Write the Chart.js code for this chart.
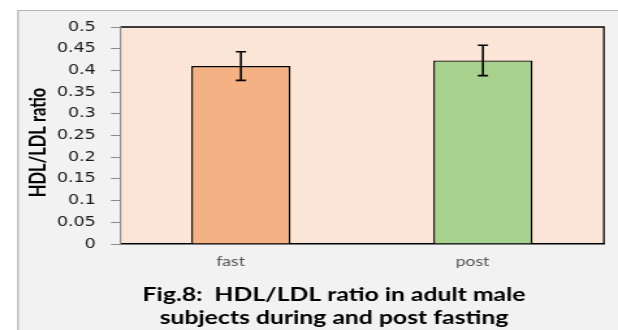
<!DOCTYPE html>
<html>
<head>
<meta charset="utf-8">
<script src="https://cdn.jsdelivr.net/npm/chart.js@4.4.1/dist/chart.umd.min.js"></script>
<style>
  html, body { margin: 0; padding: 0; background: #ffffff; }
  #wrap { width: 475px; height: 330px; transform: scale(1.301, 1); transform-origin: 0 0; }
</style>
</head>
<body>
<div id="wrap"><canvas id="ratioChart" width="475" height="330"></canvas></div>
<script>
// values
const categories = ['fast', 'post'];
const meanRatio = [0.41, 0.423];
const errRatio = [0.033, 0.035];
const yTicks = [0, 0.05, 0.1, 0.15, 0.2, 0.25, 0.3, 0.35, 0.4, 0.45, 0.5];
const barColors = ['#f4b183', '#a9d18e'];
const yTitle = 'HDL/LDL ratio';
const caption = ['Fig.8:  HDL/LDL ratio in adult male', 'subjects during and post fasting'];

// backgrounds, frame, y title, caption and error bars
const figureDecor = {
    id: 'figureDecor',
    beforeDraw(chart) {
        const ctx = chart.ctx;
        const area = chart.chartArea;
        ctx.save();
        ctx.fillStyle = '#ffffff';
        ctx.fillRect(0, 0, chart.width, chart.height);
        ctx.fillStyle = '#f2f2f2';
        ctx.fillRect(13.8, 10.5, chart.width, chart.height);
        ctx.strokeStyle = '#b4b4b4';
        ctx.lineWidth = 1.2;
        ctx.beginPath();
        ctx.moveTo(13.8, chart.height);
        ctx.lineTo(13.8, 10.5);
        ctx.lineTo(chart.width, 10.5);
        ctx.stroke();
        ctx.fillStyle = '#fbe5d6';
        ctx.fillRect(area.left, area.top, area.right - area.left, area.bottom - area.top);
        ctx.strokeStyle = '#000000';
        ctx.lineWidth = 1.3;
        ctx.beginPath();
        ctx.moveTo(area.left, area.top);
        ctx.lineTo(area.right, area.top);
        ctx.lineTo(area.right, area.bottom);
        ctx.stroke();
        ctx.restore();
    },
    afterDatasetsDraw(chart) {
        const ctx = chart.ctx;
        const y = chart.scales.y;
        const bars = chart.getDatasetMeta(0).data;
        ctx.save();
        ctx.strokeStyle = '#000000';
        ctx.lineWidth = 1.6;
        bars.forEach((bar, i) => {
            const yTop = y.getPixelForValue(meanRatio[i] + errRatio[i]);
            const yBot = y.getPixelForValue(meanRatio[i] - errRatio[i]);
            ctx.beginPath();
            ctx.moveTo(bar.x, yTop);
            ctx.lineTo(bar.x, yBot);
            ctx.moveTo(bar.x - 3.9, yTop);
            ctx.lineTo(bar.x + 3.9, yTop);
            ctx.moveTo(bar.x - 3.9, yBot);
            ctx.lineTo(bar.x + 3.9, yBot);
            ctx.stroke();
        });
        ctx.restore();
    },
    afterDraw(chart) {
        const ctx = chart.ctx;
        ctx.save();
        ctx.fillStyle = '#000000';
        ctx.textAlign = 'center';
        ctx.textBaseline = 'middle';
        ctx.font = 'bold 19px Lato, sans-serif';
        ctx.fillText(caption[0], 256.7, 295);
        ctx.fillText(caption[1], 256.7, 318);
        ctx.translate(29.5, 142.5);
        ctx.rotate(-Math.PI / 2);
        ctx.font = 'bold 16.5px "Liberation Sans Narrow", Lato, sans-serif';
        ctx.fillText(yTitle, 0, 0);
        ctx.restore();
    }
};

const ctx = document.getElementById('ratioChart').getContext('2d');
const ratioChart = new Chart(ctx, {
    type: 'bar',
    data: {
        labels: categories,
        datasets: [{
            label: 'HDL/LDL ratio',
            data: meanRatio,
            backgroundColor: barColors,
            borderColor: '#000000',
            borderWidth: 1.4,
            categoryPercentage: 1,
            barPercentage: 0.41
        }]
    },
    options: {
        responsive: false,
        animation: false,
        layout: {
            padding: { top: 27, right: 10.8, left: 0, bottom: 50.5 }
        },
        plugins: {
            legend: { display: false },
            tooltip: { enabled: false },
            title: { display: false }
        },
        scales: {
            x: {
                grid: { display: false, drawTicks: false },
                border: { color: '#000000', width: 1.4 },
                ticks: {
                    color: '#555555',
                    padding: 10,
                    labelOffset: -8,
                    font: { family: 'Lato', size: 13.5 }
                },
                afterFit(scale) { scale.height = 35.5; }
            },
            y: {
                min: 0,
                max: 0.5,
                afterBuildTicks(scale) {
                    scale.ticks = yTicks.map(v => ({ value: v }));
                },
                grid: {
                    drawOnChartArea: false,
                    drawTicks: true,
                    tickLength: 7,
                    color: '#8c8c8c'
                },
                border: { color: '#8c8c8c', width: 1.2 },
                ticks: {
                    color: '#1a1a1a',
                    padding: 11.5,
                    font: { family: 'DejaVu Sans', size: 13.5 },
                    callback: (v) => String(v)
                },
                afterFit(scale) { scale.width = 92.2; }
            }
        }
    },
    plugins: [figureDecor]
});
</script>
</body>
</html>
